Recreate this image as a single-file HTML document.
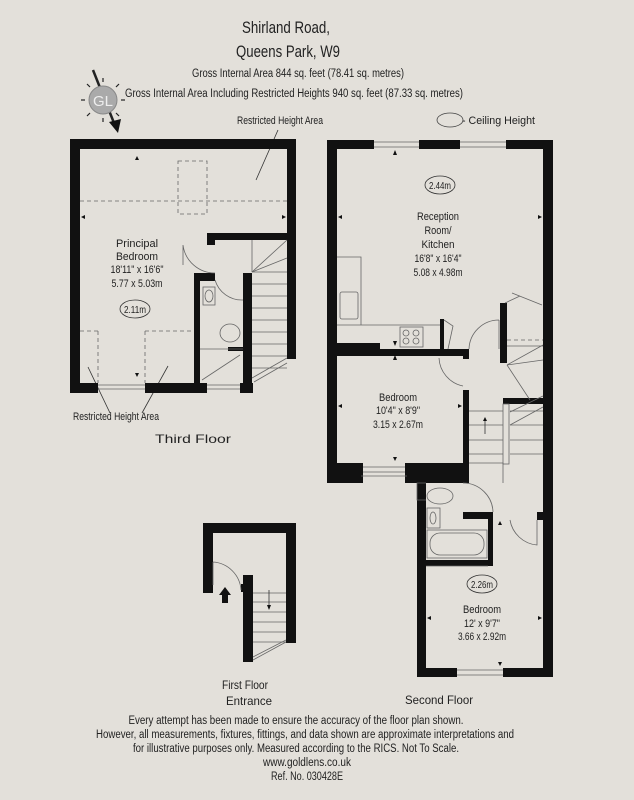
<!DOCTYPE html>
<html><head><meta charset="utf-8"><style>
html,body{margin:0;padding:0;background:#e3e0da;}
svg{display:block;font-family:"Liberation Sans",sans-serif;}
text{fill:#222;}
</style></head><body>
<svg width="634" height="800" viewBox="0 0 634 800" xmlns="http://www.w3.org/2000/svg">
<rect width="634" height="800" fill="#e3e0da"/>
<!-- Header -->
<g text-anchor="middle">
<text x="286" y="33" font-size="17" textLength="88" lengthAdjust="spacingAndGlyphs">Shirland Road,</text>
<text x="288" y="57" font-size="17" textLength="104" lengthAdjust="spacingAndGlyphs">Queens Park, W9</text>
<text x="298" y="77" font-size="11.5" textLength="212" lengthAdjust="spacingAndGlyphs">Gross Internal Area 844 sq. feet (78.41 sq. metres)</text>
<text x="294" y="97" font-size="11.5" textLength="338" lengthAdjust="spacingAndGlyphs">Gross Internal Area Including Restricted Heights 940 sq. feet (87.33 sq. metres)</text>
<text x="280" y="124" font-size="11" textLength="86" lengthAdjust="spacingAndGlyphs">Restricted Height Area</text>
</g>
<ellipse cx="450" cy="120" rx="13" ry="7" fill="none" stroke="#444" stroke-width="0.8"/>
<text x="462" y="124" font-size="11" textLength="73" lengthAdjust="spacingAndGlyphs">-  Ceiling Height</text>
<!-- compass -->
<g stroke="#222" stroke-width="1.2">
<line x1="103" y1="78" x2="103" y2="82"/><line x1="103" y1="118" x2="103" y2="122"/>
<line x1="81" y1="100" x2="85" y2="100"/><line x1="121" y1="100" x2="125" y2="100"/>
<line x1="87" y1="84" x2="90" y2="87"/><line x1="116" y1="113" x2="119" y2="116"/>
<line x1="87" y1="116" x2="90" y2="113"/><line x1="116" y1="87" x2="119" y2="84"/>
<line x1="93" y1="70" x2="114" y2="123" stroke-width="2.5"/>
</g>
<circle cx="103" cy="100" r="14" fill="#aaa" stroke="#888"/>
<text x="103" y="106" font-size="15" text-anchor="middle" fill="#eee" style="fill:#eee">GL</text>
<polygon points="109,122 121,119 118,133" fill="#111"/>
<!-- Restricted area arrows -->
<g stroke="#333" stroke-width="0.8" fill="none">
<line x1="278" y1="130" x2="256" y2="180"/>
<line x1="110" y1="413" x2="88" y2="367"/>
<line x1="142" y1="413" x2="168" y2="366"/>
</g>
<!-- THIRD FLOOR -->
<g fill="#111">
<rect x="70" y="139" width="226" height="10"/>
<rect x="70" y="139" width="10" height="254"/>
<rect x="287" y="139" width="9" height="220"/>
<rect x="70" y="383" width="28" height="10"/>
<rect x="145" y="383" width="62" height="10"/>
<rect x="240" y="383" width="13" height="10"/>
<rect x="207" y="233" width="80" height="7"/>
<rect x="207" y="233" width="8" height="12"/>
<rect x="194" y="273" width="6" height="120"/>
<rect x="194" y="273" width="21" height="8"/>
<rect x="243" y="273" width="9" height="120"/>
<rect x="228" y="347" width="16" height="4"/>
</g>
<g stroke="#666" stroke-width="0.8" fill="none">
<line x1="98" y1="385" x2="145" y2="385"/><line x1="98" y1="389" x2="145" y2="389"/>
<line x1="207" y1="385" x2="240" y2="385"/><line x1="207" y1="389" x2="240" y2="389"/>
<path d="M252,272 H287 M252,284 H287 M252,296 H287 M252,308 H287 M252,320 H287 M252,332 H287 M252,344 H287 M252,356 H287 M252,368 H287"/>
<path d="M252,240 V272 M252,272 L287,240 M252,272 L287,258 M252,378 L287,358 M254,382 L287,363"/>
<path d="M215,273 A32,32 0 0 1 183,245 M183,245 V265"/>
<path d="M243,300 A28,28 0 0 1 215,280"/>
<rect x="203" y="287" width="12" height="18"/>
<ellipse cx="209" cy="296" rx="4" ry="6"/>
<ellipse cx="230" cy="333" rx="10" ry="9"/>
<path d="M200,349 H243 M202,380 L240,355"/>
</g>
<g stroke="#666" stroke-width="0.8" fill="none" stroke-dasharray="4,3">
<line x1="80" y1="201" x2="287" y2="201"/>
<rect x="178" y="161" width="29" height="53"/>
<path d="M80,331 H100 M98,331 V383 M145,331 H193 M145,331 V383"/>
</g>
<g fill="#111">
<polygon points="137,156 135,160 139,160"/><polygon points="137,377 135,373 139,373"/>
<polygon points="81,217 85,215 85,219"/><polygon points="286,217 282,215 282,219"/>
</g>
<g text-anchor="middle" font-size="11">
<text x="137" y="247" textLength="42" lengthAdjust="spacingAndGlyphs">Principal</text>
<text x="137" y="260" textLength="42" lengthAdjust="spacingAndGlyphs">Bedroom</text>
<text x="137" y="273" textLength="53" lengthAdjust="spacingAndGlyphs">18'11" x 16'6"</text>
<text x="137" y="287" textLength="51" lengthAdjust="spacingAndGlyphs">5.77 x 5.03m</text>
<text x="135" y="313" font-size="10" textLength="22" lengthAdjust="spacingAndGlyphs">2.11m</text>
<text x="116" y="420" textLength="86" lengthAdjust="spacingAndGlyphs">Restricted Height Area</text>
<text x="193" y="443" font-size="12" textLength="76" lengthAdjust="spacingAndGlyphs">Third Floor</text>
</g>
<ellipse cx="135" cy="309" rx="15" ry="9" fill="none" stroke="#333" stroke-width="0.8"/>
<!-- SECOND FLOOR -->
<g fill="#111">
<rect x="327" y="140" width="47" height="9"/>
<rect x="419" y="140" width="41" height="9"/>
<rect x="506" y="140" width="47" height="9"/>
<rect x="327" y="140" width="10" height="343"/>
<rect x="543" y="140" width="10" height="537"/>
<rect x="337" y="343" width="43" height="13"/>
<rect x="380" y="349" width="89" height="7"/>
<rect x="463" y="349" width="6" height="10"/>
<rect x="463" y="390" width="6" height="73"/>
<rect x="327" y="463" width="36" height="20"/>
<rect x="405" y="463" width="64" height="20"/>
<rect x="440" y="319" width="4" height="30"/>
<rect x="500" y="303" width="7" height="60"/>
<rect x="503" y="398" width="40" height="6"/>
<rect x="417" y="483" width="9" height="194"/>
<rect x="417" y="668" width="40" height="9"/>
<rect x="503" y="668" width="50" height="9"/>
<rect x="463" y="512" width="30" height="7"/>
<rect x="488" y="512" width="5" height="54"/>
<rect x="426" y="560" width="67" height="6"/>
<rect x="537" y="512" width="6" height="8"/>
</g>
<g stroke="#666" stroke-width="0.8" fill="none">
<path d="M374,142 H419 M374,147 H419 M460,142 H506 M460,147 H506"/>
<path d="M363,467 H405 M363,472 H405 M361,476 H407"/>
<path d="M457,670 H503 M457,675 H503"/>
<path d="M337,257 H361 V325 H440 M337,325 H361"/>
<rect x="340" y="292" width="18" height="27" rx="2"/>
<rect x="400" y="327" width="23" height="20"/>
<circle cx="406" cy="333" r="3"/><circle cx="416" cy="333" r="3"/><circle cx="406" cy="341" r="3"/><circle cx="416" cy="341" r="3"/>
<path d="M448,349 L453,326 L444,320 M505,303 L520,296 M512,293 L542,305"/>
<path d="M469,349 A30,30 0 0 1 499,320 M499,320 V349"/>
<path d="M439,358 A30,30 0 0 0 463,386"/>
<path d="M507,346 H543 M507,365 L543,345 M507,365 L543,360 M507,365 L530,400"/>
<path d="M469,411 H503 M469,425 H503 M469,440 H503 M469,454 H503 M510,411 H543 M510,425 H543 M510,440 H543 M510,454 H543"/>
<rect x="503" y="404" width="6" height="60"/>
<path d="M510,412 L543,396 M510,425 L543,407"/>
<path d="M469,463 H503 V483"/>
<path d="M426,483 H417 V500 H426"/>
<ellipse cx="440" cy="496" rx="13" ry="8"/>
<rect x="427" y="508" width="13" height="20"/>
<ellipse cx="433" cy="518" rx="3" ry="6"/>
<rect x="427" y="530" width="60" height="28"/>
<rect x="430" y="533" width="54" height="22" rx="10"/>
<path d="M463,483 A30,30 0 0 1 493,512"/>
<path d="M537,520 V545 A30,30 0 0 1 510,520"/>
<path d="M426,566 H488"/>
</g>
<g stroke="#666" stroke-width="0.8" fill="none" stroke-dasharray="4,3"><line x1="507" y1="340" x2="543" y2="340"/></g>
<g fill="#111">
<polygon points="395,150 393,155 397,155"/><polygon points="395,355 393,360 397,360"/><polygon points="395,346 393,341 397,341"/>
<polygon points="338,217 342,215 342,219"/><polygon points="542,217 538,215 538,219"/>
<polygon points="338,406 342,404 342,408"/><polygon points="462,406 458,404 458,408"/>
<polygon points="395,461 393,457 397,457"/>
<polygon points="485,417 483,421 487,421"/>
<polygon points="500,521 498,525 502,525"/>
<polygon points="427,618 431,616 431,620"/><polygon points="542,618 538,616 538,620"/>
<polygon points="500,666 498,662 502,662"/>
</g>
<path d="M485,421 V434" stroke="#333" stroke-width="0.8"/>
<g text-anchor="middle" font-size="11">
<ellipse cx="440" cy="185" rx="15" ry="9" fill="none" stroke="#333" stroke-width="0.8"/>
<text x="440" y="189" font-size="10" textLength="22" lengthAdjust="spacingAndGlyphs">2.44m</text>
<text x="438" y="220" textLength="42" lengthAdjust="spacingAndGlyphs">Reception</text>
<text x="438" y="234" textLength="27" lengthAdjust="spacingAndGlyphs">Room/</text>
<text x="438" y="248" textLength="33" lengthAdjust="spacingAndGlyphs">Kitchen</text>
<text x="438" y="262" textLength="47" lengthAdjust="spacingAndGlyphs">16'8" x 16'4"</text>
<text x="438" y="276" textLength="49" lengthAdjust="spacingAndGlyphs">5.08 x 4.98m</text>
<text x="398" y="401" textLength="38" lengthAdjust="spacingAndGlyphs">Bedroom</text>
<text x="398" y="414" textLength="44" lengthAdjust="spacingAndGlyphs">10'4" x 8'9"</text>
<text x="398" y="428" textLength="50" lengthAdjust="spacingAndGlyphs">3.15 x 2.67m</text>
<ellipse cx="482" cy="584" rx="15" ry="9" fill="none" stroke="#333" stroke-width="0.8"/>
<text x="482" y="588" font-size="10" textLength="22" lengthAdjust="spacingAndGlyphs">2.26m</text>
<text x="482" y="613" textLength="38" lengthAdjust="spacingAndGlyphs">Bedroom</text>
<text x="482" y="627" textLength="36" lengthAdjust="spacingAndGlyphs">12' x 9'7"</text>
<text x="482" y="640" textLength="48" lengthAdjust="spacingAndGlyphs">3.66 x 2.92m</text>
<text x="439" y="704" font-size="12" textLength="68" lengthAdjust="spacingAndGlyphs">Second Floor</text>
</g>
<!-- FIRST FLOOR -->
<g fill="#111">
<rect x="203" y="523" width="93" height="10"/>
<rect x="203" y="523" width="10" height="70"/>
<rect x="286" y="523" width="10" height="120"/>
<rect x="243" y="575" width="10" height="87"/>
<rect x="241" y="584" width="4" height="8"/>
<polygon points="225,587 219,595 222,595 222,603 228,603 228,595 231,595"/>
</g>
<g stroke="#666" stroke-width="0.8" fill="none">
<path d="M213,562 A30,30 0 0 1 241,590 M213,562 V585"/>
<path d="M253,593 H286 M253,602 H286 M253,612 H286 M253,622 H286 M253,632 H286 M253,642 H286"/>
<path d="M253,660 L286,642 M253,657 L286,640"/>
<path d="M269,590 V607" stroke="#333"/>
</g>
<polygon points="269,610 267,605 271,605" fill="#111"/>
<g text-anchor="middle" font-size="12">
<text x="245" y="689" textLength="46" lengthAdjust="spacingAndGlyphs">First Floor</text>
<text x="249" y="705" textLength="46" lengthAdjust="spacingAndGlyphs">Entrance</text>
</g>
<!-- Footer -->
<g text-anchor="middle" font-size="11.5">
<text x="296" y="724" textLength="335" lengthAdjust="spacingAndGlyphs">Every attempt has been made to ensure the accuracy of the floor plan shown.</text>
<text x="305" y="738" textLength="418" lengthAdjust="spacingAndGlyphs">However, all measurements, fixtures, fittings, and data shown are approximate interpretations and</text>
<text x="296" y="752" textLength="326" lengthAdjust="spacingAndGlyphs">for illustrative purposes only. Measured according to the RICS. Not To Scale.</text>
<text x="307" y="766" textLength="88" lengthAdjust="spacingAndGlyphs">www.goldlens.co.uk</text>
<text x="307" y="780" textLength="72" lengthAdjust="spacingAndGlyphs">Ref. No. 030428E</text>
</g>
</svg>
</body></html>
